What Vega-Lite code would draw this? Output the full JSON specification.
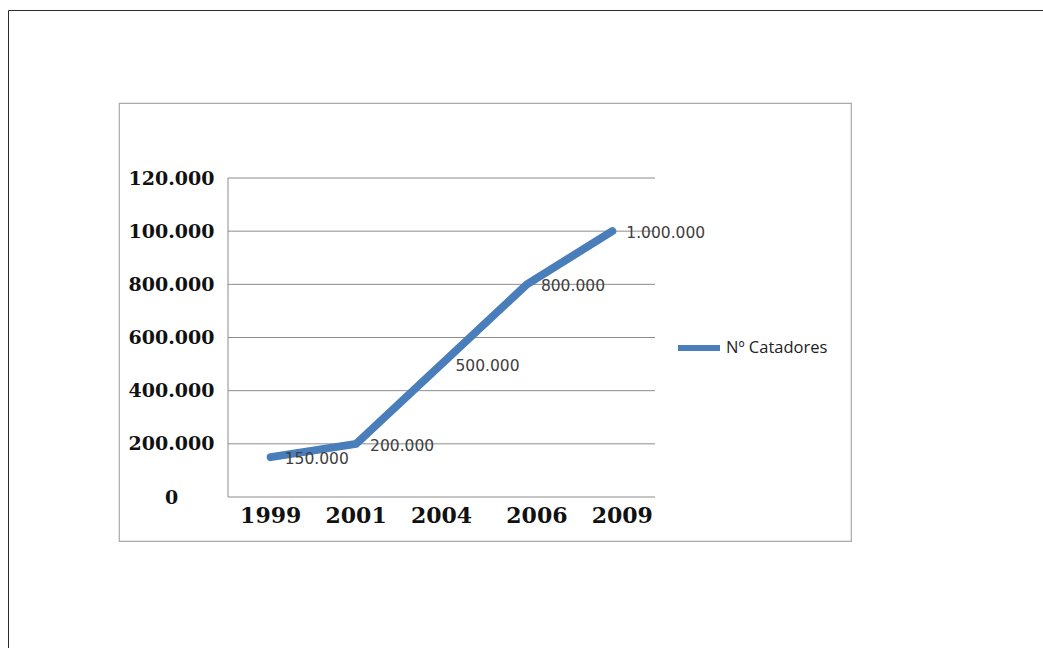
{
  "$schema": "https://vega.github.io/schema/vega-lite/v6.json",
  "width": 732,
  "height": 438,
  "autosize": {"type": "none"},
  "padding": {"left": 119, "top": 103, "right": 192, "bottom": 107},
  "background": "white",
  "config": {
    "locale": {"number": {"decimal": ",", "thousands": ".", "grouping": [3], "currency": ["", ""]}},
    "view": {"stroke": "#a9a9a9", "strokeWidth": 1.2}
  },
  "datasets": {
    "catadores": [
      {"ano": "1999", "catadores": 150000, "serie": "Nº Catadores"},
      {"ano": "2001", "catadores": 200000, "serie": "Nº Catadores"},
      {"ano": "2004", "catadores": 500000, "serie": "Nº Catadores"},
      {"ano": "2006", "catadores": 800000, "serie": "Nº Catadores"},
      {"ano": "2009", "catadores": 1000000, "serie": "Nº Catadores"}
    ],
    "escala": [
      {"valor": 0}, {"valor": 200000}, {"valor": 400000}, {"valor": 600000},
      {"valor": 800000}, {"valor": 1000000}, {"valor": 1200000}
    ]
  },
  "layer": [
    {
      "data": {"name": "escala"},
      "mark": {"type": "rule", "color": "#8c8c8c", "strokeWidth": 1},
      "encoding": {
        "x": {"datum": "1999", "type": "nominal", "bandPosition": 0},
        "x2": {"datum": "2009", "bandPosition": 1},
        "y": {"field": "valor", "type": "quantitative"}
      }
    },
    {
      "data": {"values": [{"desde": 0, "hasta": 1200000}]},
      "mark": {"type": "rule", "color": "#8c8c8c", "strokeWidth": 1},
      "encoding": {
        "x": {"datum": "1999", "type": "nominal", "bandPosition": 0},
        "y": {"field": "desde", "type": "quantitative"},
        "y2": {"field": "hasta"}
      }
    },
    {
      "data": {"name": "catadores"},
      "mark": {"type": "line", "strokeWidth": 8, "strokeCap": "round", "strokeJoin": "round"},
      "encoding": {
        "x": {
          "field": "ano",
          "type": "nominal",
          "sort": null,
          "scale": {
            "type": "band",
            "domain": ["1999", "2001", "2004", "2006", "2009"],
            "range": [109, 536],
            "paddingInner": 0,
            "paddingOuter": 0
          },
          "axis": {
            "orient": "bottom",
            "offset": -44,
            "title": null,
            "domain": false,
            "ticks": false,
            "grid": false,
            "labelAngle": 0,
            "labelAlign": "center",
            "labelBaseline": "top",
            "labelPadding": 8,
            "labelFont": "DejaVu Serif",
            "labelFontWeight": "bold",
            "labelFontSize": 22,
            "labelColor": "#111111",
            "labelOffset": {"condition": {"test": "datum.value == '2006' || datum.value == '2009'", "value": 10}, "value": 0}
          }
        },
        "y": {
          "field": "catadores",
          "type": "quantitative",
          "scale": {"domain": [-165517, 1482132], "nice": false, "zero": false},
          "axis": {
            "orient": "left",
            "offset": -52,
            "title": null,
            "domain": false,
            "ticks": false,
            "grid": false,
            "values": [0, 200000, 400000, 600000, 800000, 1000000, 1200000],
            "labelExpr": "datum.value == 0 ? '0' : datum.value >= 1000000 ? format(datum.value / 10000, 'd') + '.000' : format(datum.value / 1000, 'd') + '.000'",
            "labelAlign": "center",
            "labelBaseline": "middle",
            "labelPadding": 0,
            "labelFlush": false,
            "labelOverlap": false,
            "labelFont": "DejaVu Serif",
            "labelFontWeight": "bold",
            "labelFontSize": 19,
            "labelColor": "#111111"
          }
        },
        "color": {
          "field": "serie",
          "type": "nominal",
          "scale": {"range": ["#4a7ebb"]},
          "legend": {
            "orient": "none",
            "legendX": 556,
            "legendY": 221,
            "title": null,
            "padding": 0,
            "symbolType": "stroke",
            "symbolSize": 1764,
            "symbolStrokeWidth": 6,
            "labelOffset": 3,
            "labelFont": "Open Sans",
            "labelFontSize": 16.5,
            "labelColor": "#222222"
          }
        }
      }
    },
    {
      "data": {"name": "catadores"},
      "mark": {"type": "text", "align": "left", "baseline": "middle", "dx": 14, "dy": 2, "font": "DejaVu Sans", "fontSize": 15.5, "color": "#404040"},
      "encoding": {
        "x": {"field": "ano", "type": "nominal", "sort": null},
        "y": {"field": "catadores", "type": "quantitative"},
        "text": {"field": "catadores", "type": "quantitative", "format": ",d"}
      }
    },
    {
      "data": {"name": "catadores"},
      "mark": {"type": "point", "opacity": 0},
      "encoding": {
        "x": {"field": "ano", "type": "nominal", "sort": null},
        "y": {"field": "catadores", "type": "quantitative"},
        "shape": {
          "datum": "",
          "type": "nominal",
          "legend": {
            "orient": "none",
            "legendX": -111,
            "legendY": -93,
            "title": null,
            "padding": 620,
            "strokeColor": "#2b2b2b",
            "symbolOpacity": 0,
            "labelOpacity": 0
          }
        }
      }
    }
  ]
}
